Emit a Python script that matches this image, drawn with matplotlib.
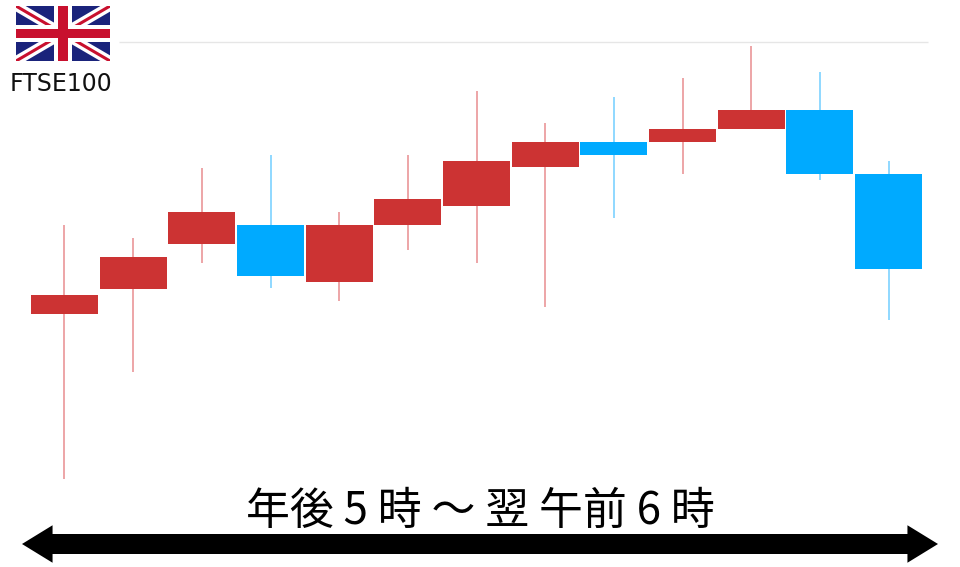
import matplotlib
matplotlib.use("Agg")
import matplotlib.pyplot as plt
from matplotlib.patches import FancyArrowPatch, Rectangle, ArrowStyle

# Values, on an arbitrary index scale (low of first candle = 0)
opens  = [165, 190, 235, 254, 197, 254, 273, 312, 337, 337, 350, 369, 305]
closes = [184, 222, 267, 203, 254, 280, 318, 337, 324, 350, 369, 305, 210]
highs  = [254, 241, 311, 324, 267, 324, 388, 356, 382, 401, 433, 407, 318]
lows   = [0, 107, 216, 191, 178, 229, 216, 172, 261, 305, 350, 299, 159]
grid_value = 437
title_text = "FTSE100"
period_text = "年後 5 時 ～ 翌 午前 6 時"

UP = "#cc3333"
DOWN = "#00aaff"
UP_WICK = "#eda5a7"
DOWN_WICK = "#8fd8ff"

W, H = 960, 567
fig = plt.figure(figsize=(W / 100, H / 100), dpi=100)
ax = fig.add_axes([0, 0, 1, 1])
step = 68.67
x0 = 64.5
ax.set_xlim(-x0 / step, (W - x0) / step)
ax.set_ylim(479 - H, 479)
ax.axis("off")

ax.hlines(grid_value, (119 - x0) / step, (928 - x0) / step, color="#e6e6e6", lw=1, zorder=1)

for i, (o, c, h, l) in enumerate(zip(opens, closes, highs, lows)):
    up = c > o
    ax.vlines(i, l, h, color=UP_WICK if up else DOWN_WICK, lw=1.4, zorder=2)
    ax.bar(i, abs(c - o), bottom=min(o, c), width=0.975,
           color=UP if up else DOWN, edgecolor="none", zorder=3)

# overlay in pixel coordinates for annotation elements
ov = fig.add_axes([0, 0, 1, 1], facecolor="none")
ov.set_xlim(0, W)
ov.set_ylim(H, 0)
ov.axis("off")

ov.text(61, 84, title_text, ha="center", va="center", fontsize=17,
        family=["DejaVu Sans"], color="#111111")
ov.text(480, 511, period_text, ha="center", va="center", fontsize=31.6,
        family=["Noto Sans CJK JP", "DejaVu Sans"], color="#000000")

arrow = FancyArrowPatch((22, 544), (938, 544), shrinkA=0, shrinkB=0,
                        arrowstyle=ArrowStyle("<|-|>", head_length=2.2, head_width=1.35),
                        mutation_scale=10, lw=0, color="black")
ov.add_patch(arrow)
ov.add_patch(Rectangle((40, 534), 880, 20, color="black", lw=0))

# Union Jack
fl = fig.add_axes([16 / W, 1 - 61 / H, 94 / W, 55 / H])
fl.set_xlim(0, 60)
fl.set_ylim(0, 30)
fl.axis("off")
clip = Rectangle((0, 0), 60, 30, transform=fl.transData)
fl.add_patch(Rectangle((0, 0), 60, 30, color="#1a237b", lw=0))
for (a, b) in [((0, 0), (60, 30)), ((0, 30), (60, 0))]:
    l1, = fl.plot(*zip(a, b), color="white", lw=7, solid_capstyle="butt")
    l2, = fl.plot(*zip(a, b), color="#c8102e", lw=2.2, solid_capstyle="butt")
    l1.set_clip_path(clip); l2.set_clip_path(clip)
fl.add_patch(Rectangle((24.5, 0), 11, 30, color="white", lw=0, zorder=4))
fl.add_patch(Rectangle((0, 10.4), 60, 9.2, color="white", lw=0, zorder=4))
fl.add_patch(Rectangle((27, 0), 6, 30, color="#c8102e", lw=0, zorder=5))
fl.add_patch(Rectangle((0, 12.5), 60, 5, color="#c8102e", lw=0, zorder=5))

fig.savefig("out.png", dpi=100, facecolor="white")
